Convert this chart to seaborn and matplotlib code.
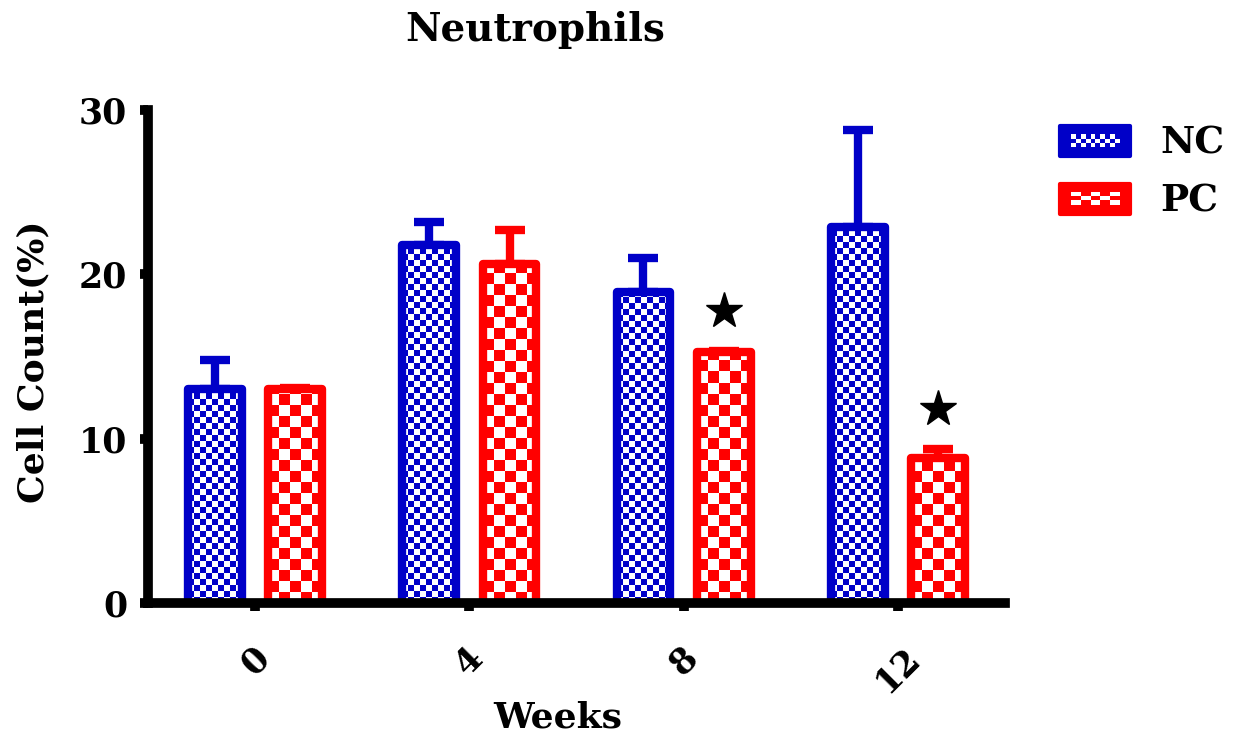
import numpy as np
import pandas as pd
import seaborn as sns
import matplotlib
matplotlib.use("Agg")
import matplotlib.pyplot as plt
from matplotlib.colors import ListedColormap
from matplotlib.patches import Rectangle, Patch
from matplotlib.legend_handler import HandlerBase

# ---------------- data ----------------
weeks = ["0", "4", "8", "12"]
groups = ["NC", "PC"]
nc_mean = [13.0, 21.8, 18.9, 22.9]
pc_mean = [13.0, 20.6, 15.3, 8.8]
nc_err = [1.8, 1.4, 2.1, 5.9]
pc_err = [0.1, 2.1, 0.05, 0.6]
pc_significant = [False, False, True, True]
y_ticks = [0, 10, 20, 30]

df = pd.DataFrame({
    "Weeks": weeks * 2,
    "Group": ["NC"] * len(weeks) + ["PC"] * len(weeks),
    "Value": nc_mean + pc_mean,
})

colors = {"NC": "#0000C8", "PC": "#FF0000"}
cell_px = {"NC": 6, "PC": 11}

sns.set_theme(style="white")
plt.rcParams['font.family'] = ['DejaVu Serif', 'DejaVu Sans']
plt.rcParams['font.weight'] = 'bold'
plt.rcParams['text.color'] = 'black'
plt.rcParams['axes.labelcolor'] = 'black'
plt.rcParams['xtick.color'] = 'black'
plt.rcParams['ytick.color'] = 'black'

W, H = 1246, 742
fig = plt.figure(figsize=(W / 100, H / 100), dpi=100)
ax = fig.add_axes([148 / W, 139 / H, (1005 - 148) / W, (603 - 110) / H])

sns.barplot(data=df, x="Weeks", y="Value", hue="Group", order=weeks,
            hue_order=groups, palette=colors, width=0.75, gap=0.33,
            errorbar=None, ax=ax, legend=False, linewidth=6, saturation=1)

ax.set_xlim(-0.5, 3.5)
ax.set_ylim(0, 30)

means = {"NC": nc_mean, "PC": pc_mean}
errs = {"NC": nc_err, "PC": pc_err}


def add_checker(bar, color, cpx):
    x0, y0, w, h = bar.get_x(), bar.get_y(), bar.get_width(), bar.get_height()
    p0 = ax.transData.transform((x0, y0))
    p1 = ax.transData.transform((x0 + w, y0 + h))
    wpx, hpx = p1 - p0
    nx = int(np.ceil(wpx / cpx)) + 1
    ny = int(np.ceil(hpx / cpx)) + 1
    dx = w * cpx / wpx
    dy = h * cpx / hpx if hpx > 0 else 1
    arr = np.add.outer(np.arange(ny), np.arange(nx)) % 2
    im = ax.imshow(arr, cmap=ListedColormap(['white', color]),
                   extent=(x0, x0 + nx * dx, y0, y0 + ny * dy),
                   origin='lower', interpolation='nearest', aspect='auto',
                   zorder=bar.get_zorder() - 0.2)
    im.set_clip_path(bar)


for g, cont in zip(groups, ax.containers):
    col = colors[g]
    xs = []
    for bar in cont:
        add_checker(bar, col, cell_px[g])
        bar.set_facecolor('none')
        bar.set_edgecolor(col)
        bar.set_linewidth(6)
        bar.set_joinstyle('round')
        xs.append(bar.get_x() + bar.get_width() / 2)
    ax.errorbar(xs, means[g], yerr=[np.zeros(len(xs)), errs[g]], fmt='none',
                ecolor=col, elinewidth=6, capsize=11, capthick=6,
                zorder=cont[0].get_zorder() - 0.5)
    if g == "PC":
        sx = [x for x, s in zip(xs, pc_significant) if s]
        sy = [m + e + 2.4 for m, e, s in zip(pc_mean, pc_err, pc_significant) if s]
        ax.plot(sx, sy, linestyle='none', marker='*', ms=27, color='black',
                zorder=5)

ax.set_xlim(-0.5, 3.5)
ax.set_ylim(0, 30)
ax.set_yticks(y_ticks)
ax.set_xlabel("")
ax.set_ylabel("")

for s in ["top", "right"]:
    ax.spines[s].set_visible(False)
for s in ["left", "bottom"]:
    ax.spines[s].set_linewidth(7)
    ax.spines[s].set_color("black")

ax.tick_params(axis='both', which='major', length=6, width=7, color='black',
               direction='out', labelsize=25, left=True, bottom=True,
               labelcolor='black')
ax.tick_params(axis='y', pad=9)
ax.tick_params(axis='x', pad=21)
for lab in ax.get_yticklabels():
    lab.set_fontweight('bold')
for lab in ax.get_xticklabels():
    lab.set_fontweight('bold')
    lab.set_rotation(45)
    lab.set_ha('center')
    lab.set_va('top')

fig.text(535 / W, 1 - 30 / H, "Neutrophils", ha='center', va='center',
         fontsize=28, fontweight='bold')
fig.text(33 / W, 1 - 362 / H, "Cell Count(%)", ha='center', va='center',
         rotation=90, fontsize=26, fontweight='bold')
fig.text(558 / W, 1 - 718 / H, "Weeks", ha='center', va='center',
         fontsize=26, fontweight='bold')


class CheckerHandler(HandlerBase):
    def __init__(self, color, ncols, nrows):
        super().__init__()
        self.color = color
        self.ncols = ncols
        self.nrows = nrows

    def create_artists(self, legend, orig_handle, xdescent, ydescent,
                       width, height, fontsize, trans):
        x0, y0 = -xdescent, -ydescent
        arts = [Rectangle((x0, y0), width, height, facecolor=self.color,
                          edgecolor=self.color, lw=3, joinstyle='round',
                          transform=trans)]
        cx0, cx1 = x0 + 0.16 * width, x0 + 0.85 * width
        cy0, cy1 = y0 + 0.3 * height, y0 + 0.72 * height
        cw = (cx1 - cx0) / self.ncols
        ch = (cy1 - cy0) / self.nrows
        for i in range(self.nrows):
            for j in range(self.ncols):
                if (i + j) % 2 == 0:
                    arts.append(Rectangle((cx0 + j * cw, cy0 + i * ch), cw, ch,
                                          facecolor='white', edgecolor='none',
                                          transform=trans))
        return arts


h_nc = Patch(color=colors["NC"])
h_pc = Patch(color=colors["PC"])
fig.legend(handles=[h_nc, h_pc], labels=groups,
           handler_map={h_nc: CheckerHandler(colors["NC"], 10, 3),
                        h_pc: CheckerHandler(colors["PC"], 5, 3)},
           loc='upper left', bbox_to_anchor=(1060 / W, 1 - 125 / H),
           frameon=False, handlelength=1.87, handleheight=0.85,
           labelspacing=0.55, handletextpad=0.8, borderaxespad=0,
           borderpad=0, prop={'weight': 'bold', 'size': 27})

fig.savefig("out.png", dpi=100)
